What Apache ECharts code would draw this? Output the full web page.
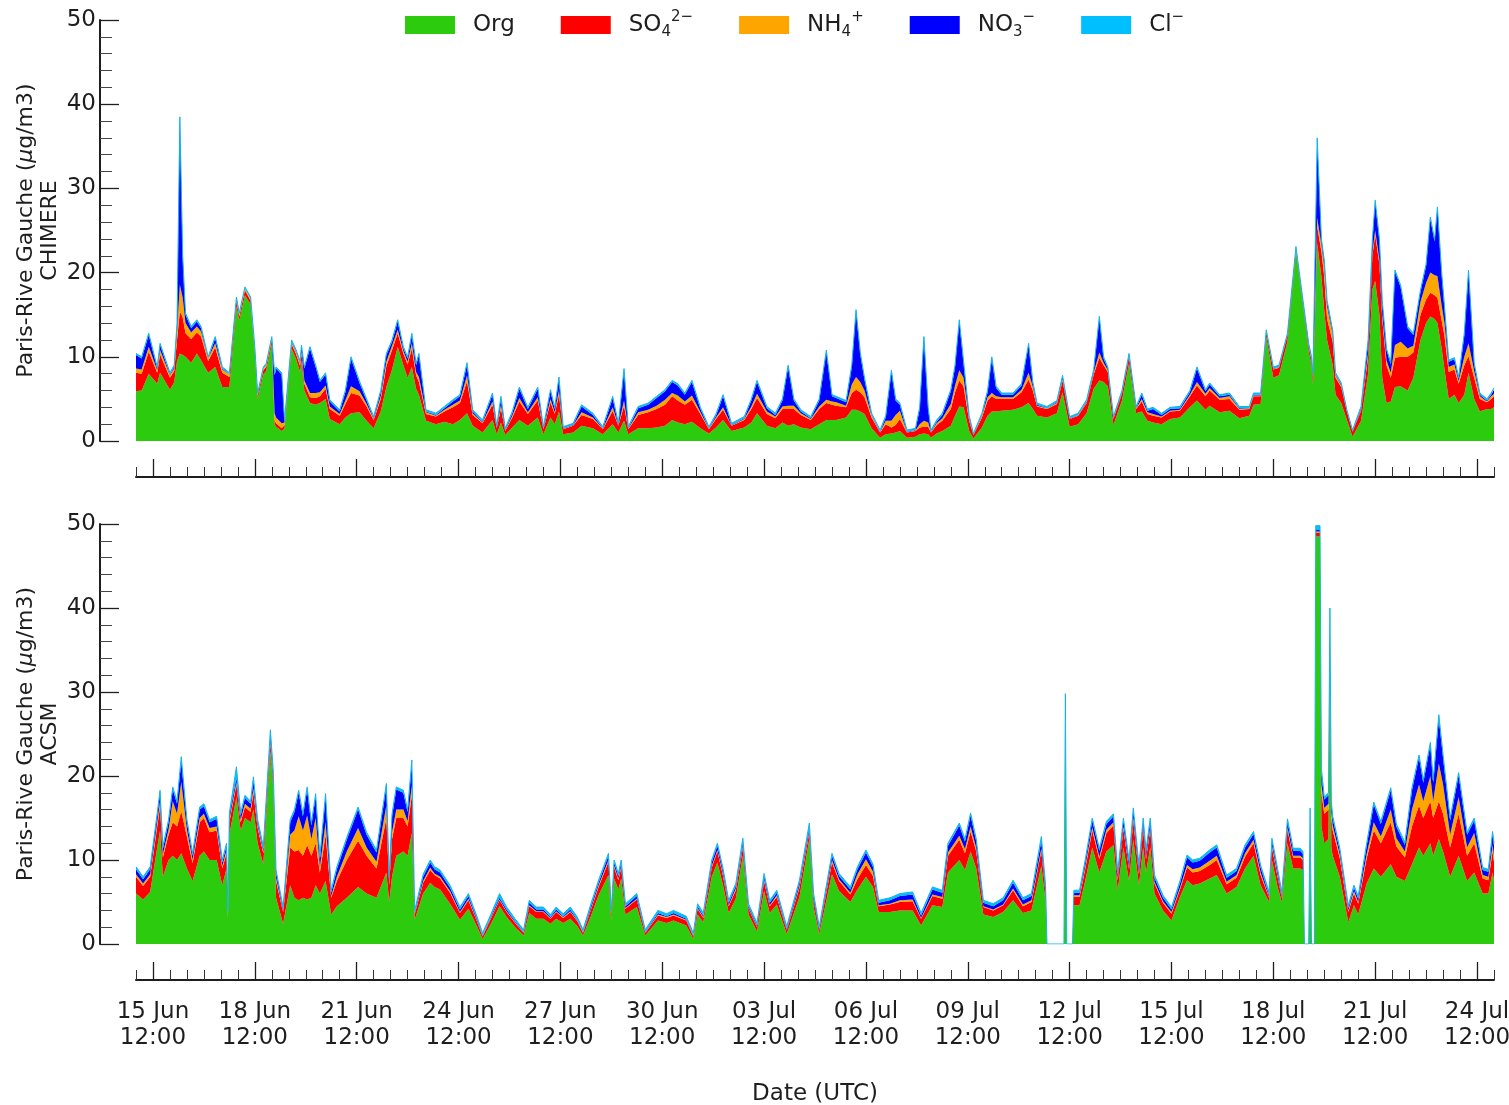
<!DOCTYPE html>
<html>
<head>
<meta charset="utf-8">
<script src="https://cdn.jsdelivr.net/npm/echarts@6/dist/echarts.min.js"></script>
<style>
  html, body { margin: 0; padding: 0; background: #ffffff; }
  #chart { width: 1509px; height: 1105px; }
</style>
</head>
<body>
<div id="chart"></div>
<script>
// Aerosol composition at Paris-Rive Gauche, 15 Jun - 25 Jul 2022.
// Times are hours since 2022-06-15 00:00 UTC; concentrations in µg/m3.

// ---- CHIMERE model ----
const chimereHours = [
  0,4,9,15,17,24,27,29,31,33,
  35,39,43,46,51,56,61,66,71,73,
  77,81,84,86,90,92,96,98,99,103,
  105,110,113,116,117,119,123,127,130,134,
  137,144,148,152,158,163,168,173,177,181,
  185,189,192,195,198,200,205,212,218,224,
  229,234,238,245,252,255,258,261,266,271,
  277,284,288,293,296,299,302,309,315,323,
  330,337,341,345,348,355,362,368,374,379,
  383,388,393,399,405,410,415,421,430,435,
  439,446,452,457,461,465,470,477,483,488,
  492,495,502,506,509,512,515,520,526,530,
  534,537,540,545,551,554,557,560,562,566,
  570,576,579,582,585,589,592,598,602,605,
  608,612,620,626,631,634,637,644,651,655,
  660,666,672,677,681,684,687,691,697,702,
  707,711,715,719,725,731,738,745,750,756,
  759,766,773,780,787,790,795,799,804,808,
  814,820,825,829,831,832,835,838,840,842,
  846,848,852,856,860,866,871,874,876,879,
  881,884,887,890,894,899,903,908,912,915,
  918,920,923,925,928,932,935,939,942,946,
  950,955,958,960
];
const chimereOrg = [
  5.9,6.0,8.0,6.8,8.1,6.1,7.0,9.5,10.4,10.2,
  10.0,9.3,10.4,9.6,8.1,8.8,6.4,6.4,16.0,14.3,
  17.3,16.2,10.4,5.0,7.9,8.3,11.5,2.0,1.7,1.2,
  1.5,11.0,9.8,8.2,9.5,6.0,4.5,4.3,4.5,5.0,
  2.6,2.0,2.8,3.3,3.4,2.4,1.5,3.5,6.4,8.5,
  11.2,9.0,7.5,8.8,6.2,5.5,2.4,2.0,2.3,2.0,
  2.5,3.3,1.8,1.0,2.5,0.8,2.2,0.7,1.6,2.5,
  1.8,2.8,0.8,2.8,2.0,3.5,0.8,1.0,1.8,1.5,
  0.8,2.0,1.0,2.4,0.8,1.5,1.5,1.6,1.8,2.5,
  2.2,2.0,2.3,1.5,0.9,1.6,2.5,1.2,1.6,2.2,
  3.3,1.8,1.5,2.2,1.8,2.0,1.6,1.4,2.0,2.5,
  2.5,2.5,2.8,3.7,3.7,3.5,3.2,1.5,0.4,0.8,
  0.9,1.0,1.2,0.4,0.5,0.8,0.9,0.8,0.4,0.9,
  1.2,1.8,3.0,4.1,4.0,1.2,0.3,1.6,3.0,3.5,
  3.5,3.6,3.7,4.0,4.5,3.8,3.0,2.8,3.3,5.8,
  1.7,2.0,3.3,6.2,7.2,7.0,6.5,1.9,4.8,9.2,
  3.3,3.5,2.4,2.2,2.0,2.6,2.8,4.0,4.8,3.7,
  4.2,3.4,3.6,2.7,3.0,4.3,4.4,12.4,7.5,7.8,
  11.8,22.5,16.1,10.6,9.0,6.6,23.5,19.5,15.5,12.0,
  9.0,5.5,4.5,2.5,0.5,2.4,8.0,18.0,19.0,15.0,
  7.5,4.5,4.7,6.4,6.5,6.0,7.5,12.0,14.0,14.8,
  14.5,14.0,11.0,8.5,5.0,5.5,4.5,5.5,8.1,5.0,
  3.5,3.8,3.8,4.0
];
const chimereSO4 = [
  2.2,2.0,2.6,1.3,2.2,1.4,1.3,2.5,5.0,4.5,
  2.8,2.8,2.5,2.8,1.4,2.3,1.7,1.2,0.6,0.5,
  0.6,0.5,0.4,0.4,0.5,0.5,0.5,0.5,0.4,0.3,
  0.4,0.5,0.6,0.7,0.9,0.8,0.7,0.8,0.8,1.2,
  1.2,1.0,1.6,2.4,2.0,1.7,1.0,1.5,2.5,2.3,
  1.6,1.4,1.6,2.2,1.6,1.5,0.8,0.9,1.2,2.0,
  2.0,3.8,1.3,1.1,1.8,0.7,1.7,0.5,1.2,2.2,
  1.4,2.0,0.6,1.8,1.2,2.0,0.6,0.8,1.3,1.1,
  0.6,1.6,0.8,1.8,0.6,1.6,1.9,2.2,2.5,2.8,
  2.6,2.3,2.6,1.7,0.5,1.0,1.2,0.6,0.9,1.6,
  1.8,1.4,1.2,1.6,2.0,1.8,1.5,1.1,1.8,2.0,
  1.8,1.7,1.2,2.0,2.4,2.3,2.0,1.3,0.6,1.2,
  0.7,0.9,1.4,0.6,0.7,0.8,0.8,0.9,0.6,1.0,
  1.2,2.0,2.8,3.1,2.5,1.2,0.4,1.2,1.8,1.8,
  1.5,1.4,1.3,1.8,2.8,2.2,1.1,1.0,1.1,1.4,
  0.9,1.0,1.2,1.7,2.7,2.0,1.7,0.7,0.8,0.8,
  0.5,1.2,0.8,0.8,0.8,0.9,0.8,1.3,1.8,1.6,
  1.8,1.5,1.4,1.0,0.8,1.0,0.9,0.5,1.0,0.9,
  0.7,0.3,0.3,0.6,0.6,1.0,2.0,3.0,4.0,2.5,
  2.8,2.0,1.9,1.0,0.6,1.2,2.0,4.0,5.5,6.0,
  7.0,4.5,2.8,3.5,3.5,4.0,3.0,3.0,2.8,2.8,
  2.8,3.0,3.3,4.0,3.2,3.0,2.3,3.5,2.0,2.5,
  1.5,0.8,1.2,1.3
];
const chimereNH4 = [
  0.5,0.5,0.6,0.3,0.5,0.3,0.3,1.0,3.2,2.3,
  1.2,0.8,0.7,0.6,0.3,0.5,0.4,0.3,0.2,0.2,
  0.2,0.2,0.2,0.1,0.2,0.2,0.2,0.8,0.7,0.6,
  0.3,0.2,0.2,0.3,0.3,0.4,0.5,0.6,0.5,0.4,
  0.3,0.2,0.4,0.8,0.5,0.3,0.1,0.3,0.5,0.5,
  0.4,0.3,0.3,0.6,0.4,0.6,0.2,0.1,0.2,0.3,
  0.3,0.7,0.2,0.1,0.4,0.05,0.4,0.05,0.2,0.4,
  0.2,0.4,0.05,0.4,0.2,0.5,0.05,0.05,0.3,0.2,
  0.05,0.4,0.05,0.6,0.05,0.3,0.3,0.4,0.6,0.4,
  0.6,0.4,0.5,0.2,0.05,0.2,0.3,0.05,0.1,0.3,
  0.5,0.3,0.2,0.3,0.4,0.4,0.2,0.1,0.3,0.4,
  0.4,0.4,0.2,1.0,1.5,1.2,0.8,0.2,0.05,0.4,
  0.8,1.2,1.0,0.05,0.05,0.4,0.7,0.5,0.05,0.2,
  0.3,0.6,0.8,1.2,1.0,0.2,0.0,0.2,0.4,0.4,
  0.3,0.2,0.2,0.3,0.8,0.4,0.1,0.05,0.1,0.2,
  0.05,0.05,0.1,0.2,0.6,0.3,0.2,0.05,0.1,0.1,
  0.05,0.3,0.2,0.2,0.1,0.1,0.1,0.2,0.4,0.3,
  0.3,0.2,0.3,0.1,0.05,0.1,0.1,0.05,0.05,0.05,
  0.05,0.05,0.05,0.1,0.1,0.1,1.0,0.8,1.2,1.5,
  0.8,0.3,0.2,0.0,0.0,0.1,0.5,0.4,0.5,0.5,
  0.5,0.6,0.6,1.5,1.8,1.0,0.8,1.5,2.0,2.4,
  2.4,2.6,1.8,1.5,0.6,0.6,0.3,1.0,1.5,0.8,
  0.3,0.1,0.3,0.3
];
const chimereNO3 = [
  1.6,1.3,1.4,0.2,0.6,0.1,0.2,0.8,19.6,4.8,
  1.0,0.5,0.6,0.4,0.0,0.6,0.1,0.0,0.1,0.0,
  0.0,0.0,0.0,0.0,0.0,0.0,0.0,4.5,5.8,5.8,
  0.1,0.1,0.1,0.1,0.5,1.4,5.3,3.1,1.2,1.3,
  0.6,0.3,1.0,3.3,1.0,0.4,0.1,0.5,0.8,0.5,
  1.0,0.3,0.4,1.0,0.8,2.6,0.1,0.1,0.2,0.4,
  0.5,1.3,0.2,0.1,0.8,0.05,0.8,0.05,0.3,1.1,
  0.4,1.0,0.05,0.9,0.4,1.4,0.05,0.05,0.7,0.3,
  0.05,1.1,0.05,3.6,0.05,0.5,0.6,0.9,1.0,1.3,
  1.2,0.8,1.6,0.4,0.05,0.2,1.3,0.05,0.1,0.7,
  1.4,0.4,0.2,0.7,4.6,0.6,0.2,0.1,0.7,5.7,
  0.6,0.5,0.4,2.1,7.8,3.3,1.3,0.1,0.05,0.4,
  5.8,1.7,0.7,0.05,0.05,1.8,9.8,1.6,0.05,0.2,
  0.4,1.5,2.2,5.8,1.8,0.2,0.0,0.1,0.6,4.1,
  1.0,0.3,0.3,0.5,3.3,0.4,0.1,0.05,0.1,0.2,
  0.05,0.05,0.1,0.2,4.1,0.5,0.2,0.05,0.1,0.1,
  0.05,0.5,0.2,0.6,0.2,0.2,0.2,0.3,1.6,0.3,
  0.4,0.2,0.2,0.1,0.05,0.1,0.1,0.05,0.05,0.05,
  0.05,0.05,0.05,0.1,0.1,0.1,9.0,0.5,0.6,0.5,
  0.3,0.1,0.1,0.0,0.0,0.2,1.3,1.3,3.4,2.3,
  1.5,1.2,1.0,8.7,6.5,2.4,1.3,1.2,2.0,6.4,
  4.0,8.0,3.7,1.8,0.6,0.6,0.3,2.6,8.5,0.8,
  0.2,0.1,0.2,0.5
];
const chimereCl = [
  0.2,0.2,0.2,0.2,0.2,0.2,0.2,0.2,0.3,0.2,
  0.2,0.2,0.2,0.2,0.2,0.2,0.2,0.2,0.2,0.2,
  0.2,0.2,0.2,0.2,0.2,0.2,0.2,0.2,0.2,0.2,
  0.2,0.2,0.2,0.2,0.2,0.2,0.2,0.2,0.2,0.2,
  0.2,0.2,0.2,0.2,0.2,0.2,0.2,0.2,0.2,0.2,
  0.2,0.2,0.2,0.2,0.2,0.2,0.2,0.2,0.2,0.2,
  0.2,0.2,0.2,0.2,0.2,0.2,0.2,0.2,0.2,0.2,
  0.2,0.2,0.2,0.2,0.2,0.2,0.2,0.2,0.2,0.2,
  0.2,0.2,0.2,0.2,0.2,0.2,0.2,0.2,0.2,0.2,
  0.2,0.2,0.2,0.2,0.2,0.2,0.2,0.2,0.2,0.2,
  0.2,0.2,0.2,0.2,0.2,0.2,0.2,0.2,0.2,0.2,
  0.2,0.2,0.2,0.2,0.2,0.2,0.2,0.2,0.2,0.2,
  0.2,0.2,0.2,0.2,0.2,0.2,0.2,0.2,0.2,0.2,
  0.2,0.2,0.2,0.2,0.2,0.2,0.2,0.2,0.2,0.2,
  0.2,0.2,0.2,0.2,0.2,0.2,0.2,0.2,0.2,0.2,
  0.2,0.2,0.2,0.2,0.2,0.2,0.2,0.2,0.2,0.2,
  0.2,0.2,0.2,0.2,0.2,0.2,0.2,0.2,0.2,0.2,
  0.2,0.2,0.2,0.2,0.2,0.2,0.2,0.2,0.2,0.2,
  0.2,0.2,0.2,0.2,0.2,0.2,0.5,0.2,0.2,0.2,
  0.2,0.2,0.2,0.2,0.2,0.2,0.2,0.2,0.2,0.2,
  0.2,0.2,0.2,0.2,0.2,0.2,0.2,0.2,0.2,0.2,
  0.2,0.2,0.2,0.2,0.2,0.2,0.2,0.2,0.2,0.2,
  0.2,0.2,0.2,0.2
];

// ---- ACSM measurements (zeros where the instrument had no data) ----
const acsmHours = [
  0,5,10,15,17,19,23,26,29,32,
  36,40,45,48,52,57,61,64,65,66,
  71,74,77,81,83,86,90,95,97,99,
  104,109,112,115,118,121,124,127,130,134,
  138,142,149,157,163,170,177,179,181,184,
  189,192,195,197,203,208,211,215,222,229,
  235,241,245,250,253,257,262,268,274,278,
  283,288,293,297,302,307,312,316,322,327,
  334,336,338,341,343,346,354,360,369,375,
  380,389,394,397,401,407,411,415,419,424,
  429,433,439,444,448,453,460,469,476,479,
  483,492,497,505,510,516,521,525,533,540,
  549,555,563,570,574,582,586,590,594,599,
  606,613,620,627,633,640,643,644,656,657,
  658,662,663,667,671,676,681,686,691,694,
  698,702,705,709,712,714,717,720,726,732,
  738,743,747,752,759,764,771,778,784,790,
  795,801,803,807,810,814,818,823,825,826,
  829,830,831,833,834,837,838,840,843,844,
  845,846,851,857,861,864,870,875,880,887,
  891,897,902,907,910,915,917,921,924,929,
  935,941,946,952,956,959,960
];
const acsmOrg = [
  6.0,5.3,6.2,11.5,13.5,8.0,10.0,10.5,10.0,10.8,
  9.0,7.5,10.5,11.0,10.0,10.0,7.0,9.0,3.0,13.0,
  17.5,13.5,15.0,14.5,16.0,12.0,9.5,23.0,18.5,5.5,
  2.4,7.0,5.5,5.2,5.5,5.3,5.5,7.0,6.0,7.5,
  3.5,4.5,5.5,6.8,6.0,5.5,8.5,5.0,8.0,10.5,
  11.0,10.5,13.2,2.9,6.0,7.3,6.8,6.5,4.8,2.9,
  4.2,2.1,0.6,2.1,3.1,4.5,3.2,2.0,1.0,3.7,
  3.0,3.0,2.4,3.0,2.5,3.0,2.1,1.0,3.5,5.8,
  8.2,2.9,7.8,6.5,7.8,3.5,4.4,1.0,2.8,2.5,
  2.8,2.2,0.6,3.5,2.6,8.0,9.7,7.0,3.7,5.4,
  10.5,3.5,1.5,6.3,3.7,4.7,1.2,5.6,12.5,4.4,
  1.2,8.3,6.3,5.0,6.5,8.0,6.8,3.8,3.8,4.0,
  4.0,2.2,4.6,4.4,8.5,10.0,8.8,11.0,9.0,3.5,
  3.2,3.8,5.2,3.7,4.0,9.3,5.0,0,0,28.5,
  0,0,4.6,4.6,7.5,11.5,8.5,11.0,11.8,6.4,
  11.5,7.5,12.4,7.0,11.5,8.5,11.5,6.0,4.0,2.8,
  5.6,7.6,7.0,7.2,7.8,8.2,6.0,6.8,9.0,10.5,
  7.0,5.0,10.0,6.8,5.0,12.0,9.0,9.0,8.8,0,
  0,15.0,0,0,48.5,48.5,14.0,12.0,12.5,38.0,
  11.5,10.5,8.0,2.6,4.6,3.5,7.2,9.0,8.0,9.5,
  8.0,7.5,9.5,11.5,10.5,12.0,10.5,12.5,11.0,8.0,
  10.5,7.5,8.5,6.0,6.0,8.5,7.5
];
const acsmSO4 = [
  2.0,1.6,1.8,2.5,2.8,2.3,3.0,4.0,4.0,5.0,
  3.8,2.1,4.0,4.0,3.3,3.5,2.0,1.8,0.3,1.5,
  1.5,1.0,1.3,1.2,2.0,1.8,1.3,1.0,1.0,2.0,
  1.4,4.5,5.5,6.0,5.0,6.5,5.0,5.0,2.5,5.5,
  2.0,3.0,4.5,5.5,4.5,3.5,6.5,2.0,4.5,4.5,
  4.0,3.5,4.5,0.6,1.3,1.5,1.4,1.3,1.3,0.8,
  1.0,0.6,0.3,0.6,0.7,0.7,0.6,0.5,0.3,0.8,
  0.8,0.8,0.6,0.8,0.6,0.8,0.6,0.3,0.8,1.0,
  1.6,0.6,1.3,1.1,1.3,0.7,0.9,0.3,0.6,0.6,
  0.6,0.6,0.3,0.7,0.5,1.1,1.3,1.1,0.8,1.0,
  1.0,0.7,0.5,1.2,0.8,0.9,0.4,1.1,0.8,0.8,
  0.4,1.4,1.2,0.9,1.2,1.4,1.3,0.7,0.9,1.0,
  1.1,0.8,1.1,1.0,2.0,2.4,2.0,2.4,2.0,0.9,
  0.8,0.8,1.2,0.8,1.0,1.8,1.0,0,0,0,
  0,0,1.0,1.0,1.4,2.0,1.6,2.2,2.3,1.2,
  2.2,1.4,2.3,1.3,2.2,1.6,2.2,1.2,0.9,0.8,
  0.9,1.5,1.5,1.5,1.6,1.8,1.1,1.1,1.4,1.5,
  1.2,0.5,1.5,1.2,0.5,1.6,1.3,1.3,1.2,0,
  0,0.5,0,0,0.5,0.5,4.0,3.5,3.5,1.0,
  3.5,3.0,2.2,1.2,1.4,1.3,3.0,4.5,4.0,5.0,
  3.6,2.8,4.5,5.0,4.5,5.0,4.5,4.5,4.5,3.5,
  5.0,3.0,3.5,1.8,1.6,2.5,2.3
];
const acsmNH4 = [
  0.3,0.3,0.3,0.5,0.7,0.4,0.6,2.5,1.5,3.5,
  0.8,0.4,0.5,0.5,0.5,0.5,0.3,0.4,0.1,0.3,
  0.3,0.3,0.4,0.4,0.5,0.3,0.2,0.3,0.3,0.4,
  0.1,1.5,2.5,4.0,3.0,3.5,2.0,3.0,0.6,1.5,
  0.2,0.5,1.0,1.5,1.0,0.8,1.5,0.3,0.8,1.0,
  1.0,0.6,1.2,0.1,0.2,0.3,0.2,0.2,0.2,0.1,
  0.2,0.1,0.05,0.1,0.1,0.1,0.1,0.1,0.05,0.1,
  0.1,0.1,0.1,0.1,0.1,0.1,0.1,0.05,0.1,0.2,
  0.2,0.1,0.2,0.2,0.2,0.1,0.1,0.05,0.1,0.1,
  0.1,0.1,0.05,0.1,0.1,0.2,0.2,0.2,0.1,0.2,
  0.2,0.1,0.05,0.2,0.1,0.2,0.05,0.2,0.2,0.1,
  0.05,0.3,0.2,0.2,0.6,0.7,0.5,0.1,0.1,0.2,
  0.2,0.1,0.2,0.2,0.4,0.5,0.5,0.6,0.4,0.1,
  0.1,0.1,0.2,0.2,0.2,0.3,0.2,0,0,0,
  0,0,0.2,0.2,0.3,0.4,0.3,0.4,0.4,0.2,
  0.3,0.2,0.4,0.2,0.3,0.2,0.3,0.2,0.2,0.2,
  0.2,0.3,0.4,0.4,0.5,0.5,0.3,0.3,0.4,0.4,
  0.3,0.1,0.3,0.2,0.1,0.3,0.2,0.2,0.2,0,
  0,0.1,0,0,0.1,0.1,1.0,0.7,0.7,0.2,
  0.7,0.6,0.4,0.2,0.3,0.2,0.5,1.0,0.8,1.5,
  1.0,0.7,2.0,2.5,2.0,3.0,2.0,4.5,3.5,1.5,
  2.0,1.0,1.2,0.4,0.4,0.8,0.7
];
const acsmNO3 = [
  0.6,0.5,0.6,0.8,1.0,0.6,0.9,1.4,1.2,2.5,
  0.9,0.5,1.0,0.9,0.7,0.9,0.4,0.5,0.1,0.5,
  0.5,0.5,0.7,0.6,0.9,0.4,0.3,0.5,0.5,0.6,
  0.2,1.5,2.2,2.8,1.7,3.1,1.6,2.6,1.0,3.1,
  0.4,0.9,1.4,2.2,1.5,1.1,2.3,0.4,1.9,2.4,
  2.0,1.1,2.5,0.1,0.5,0.6,0.5,0.5,0.4,0.3,
  0.3,0.2,0.05,0.1,0.2,0.2,0.2,0.1,0.05,0.3,
  0.2,0.2,0.1,0.2,0.1,0.2,0.1,0.05,0.3,0.3,
  0.5,0.1,0.4,0.3,0.4,0.2,0.3,0.05,0.2,0.1,
  0.2,0.1,0.05,0.2,0.2,0.4,0.5,0.4,0.3,0.3,
  0.4,0.2,0.15,0.4,0.3,0.3,0.15,0.4,0.4,0.4,
  0.15,0.5,0.4,0.4,0.6,0.8,0.6,0.3,0.4,0.5,
  0.6,0.3,0.6,0.5,0.8,1.2,0.9,1.3,0.8,0.4,
  0.4,0.5,0.7,0.5,0.5,0.9,0.5,0,0,0,
  0,0,0.3,0.3,0.5,0.8,0.7,0.7,0.7,0.5,
  0.7,0.6,0.8,0.6,0.7,0.6,0.7,0.5,0.4,0.3,
  0.5,0.9,0.8,0.8,1.0,1.0,0.5,0.5,0.7,0.7,
  0.6,0.2,0.5,0.5,0.2,0.7,0.6,0.6,0.5,0,
  0,0.3,0,0,0.2,0.2,1.5,1.0,1.0,0.4,
  1.0,0.8,0.5,0.3,0.4,0.4,1.0,2.1,1.5,2.3,
  1.4,0.8,2.3,3.2,2.2,3.7,2.2,5.3,3.2,1.7,
  2.6,1.5,1.5,0.6,0.6,1.3,1.2
];
const acsmCl = [
  0.3,0.3,0.3,0.3,0.3,0.3,0.3,0.3,0.3,0.5,
  0.3,0.3,0.3,0.3,0.3,0.3,0.3,0.3,0.5,0.3,
  1.3,0.3,0.3,0.3,0.5,0.3,0.3,0.7,0.4,0.3,
  0.3,0.3,0.3,0.3,0.3,0.3,0.3,0.3,0.3,0.3,
  0.3,0.3,0.3,0.3,0.3,0.3,0.3,0.3,0.3,0.3,
  0.3,0.3,0.5,0.3,0.3,0.3,0.3,0.3,0.3,0.3,
  0.3,0.3,0.3,0.3,0.3,0.5,0.3,0.3,0.3,0.3,
  0.3,0.3,0.3,0.3,0.3,0.3,0.3,0.3,0.3,0.3,
  0.3,0.3,0.3,0.3,0.3,0.3,0.3,0.3,0.3,0.3,
  0.3,0.3,0.3,0.3,0.3,0.3,0.3,0.3,0.3,0.3,
  0.5,0.3,0.3,0.3,0.3,0.3,0.3,0.3,0.5,0.3,
  0.3,0.3,0.3,0.3,0.3,0.3,0.3,0.3,0.3,0.3,
  0.3,0.3,0.3,0.3,0.3,0.3,0.3,0.3,0.3,0.3,
  0.3,0.3,0.3,0.3,0.3,0.5,0.3,0,0,1.3,
  0,0,0.3,0.3,0.3,0.3,0.3,0.3,0.3,0.3,
  0.3,0.3,0.3,0.3,0.3,0.3,0.3,0.3,0.3,0.3,
  0.3,0.3,0.3,0.3,0.3,0.3,0.3,0.3,0.3,0.3,
  0.3,0.4,0.3,0.3,0.4,0.3,0.3,0.3,0.3,0,
  0,0.3,0,0,0.5,0.5,0.4,0.3,0.3,0.4,
  0.3,0.3,0.3,0.3,0.3,0.3,0.3,0.3,0.3,0.3,
  0.3,0.3,0.3,0.3,0.3,0.3,0.3,0.5,0.3,0.3,
  0.3,0.3,0.3,0.3,0.3,0.3,0.3
];

// ---- Axis ticks ----
const yTickValues = [0, 10, 20, 30, 40, 50];
// major date ticks: every 3 days starting 15 Jun 12:00 (hour 12)
const dateTickLabels = [
  '15 Jun\n12:00', '18 Jun\n12:00', '21 Jun\n12:00', '24 Jun\n12:00', '27 Jun\n12:00',
  '30 Jun\n12:00', '03 Jul\n12:00', '06 Jul\n12:00', '09 Jul\n12:00', '12 Jul\n12:00',
  '15 Jul\n12:00', '18 Jul\n12:00', '21 Jul\n12:00', '24 Jul\n12:00'
];

// ---- Species ----
const speciesNames = ['Org', 'SO₄²⁻', 'NH₄⁺', 'NO₃⁻', 'Cl⁻'];
const speciesColors = ['#2dcb0d', '#ff0000', '#ffa500', '#0000ff', '#00bfff'];
const legendRich = {
  'Org': '{m|Org}',
  'SO₄²⁻': '{m|SO}{sub|4}{sup|2−}',
  'NH₄⁺': '{m|NH}{sub|4}{sup|+}',
  'NO₃⁻': '{m|NO}{sub|3}{sup|−}',
  'Cl⁻': '{m|Cl}{sup|−}'
};

[chimereOrg, chimereSO4, chimereNH4, chimereNO3, chimereCl].forEach(a => {
  if (a.length !== chimereHours.length) console.warn('CHIMERE length mismatch', a.length);
});
[acsmOrg, acsmSO4, acsmNH4, acsmNO3, acsmCl].forEach(a => {
  if (a.length !== acsmHours.length) console.warn('ACSM length mismatch', a.length);
});

// ---- Layout ----
const FONT = 'DejaVu Sans';
const INK = '#1e1e1e';
const PLOT_LEFT = 136, PLOT_WIDTH = 1358;
const SPAN_HOURS = 960, MINOR_STEP = 12, FIRST_MAJOR = 12, MAJOR_STEP = 72;
const pxPerHour = PLOT_WIDTH / SPAN_HOURS;
const majorLeft = PLOT_LEFT + FIRST_MAJOR * pxPerHour;
const majorWidth = (dateTickLabels.length - 1) * MAJOR_STEP * pxPerHour;
const panels = [
  { top: 20, height: 421, label: 'CHIMERE' },
  { top: 524, height: 420, label: 'ACSM' }
];
const AXIS_GAP = 36;

const grids = [];
panels.forEach(p => grids.push({ left: PLOT_LEFT, top: p.top, width: PLOT_WIDTH, height: p.height, outerBoundsMode: 'none', containLabel: false }));
panels.forEach(p => grids.push({ left: majorLeft, top: p.top, width: majorWidth, height: p.height, outerBoundsMode: 'none', containLabel: false }));

function minorXAxis(gridIndex) {
  return {
    type: 'value', gridIndex, min: 0, max: SPAN_HOURS, interval: MINOR_STEP,
    position: 'bottom', offset: AXIS_GAP,
    axisLine: { show: true, onZero: false, lineStyle: { color: INK, width: 2 } },
    axisTick: { show: true, inside: true, length: 10, lineStyle: { color: '#333', width: 1 } },
    axisLabel: { show: false }, splitLine: { show: false }
  };
}
function majorXAxis(gridIndex, withLabels) {
  const ax = {
    type: 'value', gridIndex, min: 0, max: (dateTickLabels.length - 1) * MAJOR_STEP, interval: MAJOR_STEP,
    position: 'bottom', offset: AXIS_GAP,
    axisLine: { show: false, onZero: false },
    axisTick: { show: true, inside: true, length: 18, lineStyle: { color: INK, width: 1.3 } },
    axisLabel: {
      show: withLabels, margin: 19, fontSize: 23, lineHeight: 26, color: INK, fontFamily: FONT,
      formatter: v => dateTickLabels[Math.round(v / MAJOR_STEP)] || ''
    },
    splitLine: { show: false }
  };
  if (withLabels) {
    ax.name = 'Date (UTC)';
    ax.nameLocation = 'middle';
    ax.nameGap = 103;
    ax.nameMoveOverlap = false;
    ax.nameTextStyle = { fontSize: 23, color: INK, fontFamily: FONT };
  }
  return ax;
}
function concYAxis(gridIndex, label) {
  return {
    type: 'value', gridIndex, min: yTickValues[0], max: yTickValues[yTickValues.length - 1],
    interval: yTickValues[1] - yTickValues[0],
    position: 'left', offset: AXIS_GAP,
    axisLine: { show: true, onZero: false, lineStyle: { color: INK, width: 2 } },
    axisTick: { show: true, inside: true, length: 19, lineStyle: { color: INK, width: 1.3 } },
    minorTick: { show: true, splitNumber: 5, length: 12, lineStyle: { color: '#444', width: 1 } },
    axisLabel: { margin: 4, fontSize: 23, color: INK, fontFamily: FONT },
    splitLine: { show: false },
    name: '{n|Paris-Rive Gauche (}{mu|μ}{n|g/m3)}\n{n|' + label + '}',
    nameLocation: 'middle', nameRotate: 90, nameGap: 38, nameMoveOverlap: false,
    nameTextStyle: {
      color: INK, fontFamily: FONT, fontSize: 22, lineHeight: 24,
      rich: {
        n: { fontSize: 22, lineHeight: 24, color: INK, fontFamily: FONT },
        mu: { fontSize: 22, lineHeight: 24, color: INK, fontFamily: FONT, fontStyle: 'italic' }
      }
    }
  };
}
function hiddenYAxis(gridIndex) {
  return { type: 'value', gridIndex, min: 0, max: 1, show: false };
}

// Each point is stored as [concentration, hour] so the stack accumulates the
// concentration dimension; encode maps it back to x = hour, y = concentration.
function stackSeries(hours, comps, axisIndex, stackId) {
  return comps.map((vals, k) => ({
    type: 'line', name: speciesNames[k], stack: stackId,
    xAxisIndex: axisIndex, yAxisIndex: axisIndex,
    data: hours.map((h, i) => [vals[i], h]),
    encode: { x: 1, y: 0 },
    symbol: 'none', showSymbol: false, silent: true,
    itemStyle: { color: speciesColors[k] },
    areaStyle: { color: speciesColors[k], opacity: 1 },
    lineStyle: k === comps.length - 1
      ? { width: 1, color: '#14b4e6' }
      : { width: 0, opacity: 0 },
    z: 2
  }));
}

const option = {
  backgroundColor: '#ffffff',
  animation: false,
  textStyle: { fontFamily: FONT },
  legend: {
    left: 400, top: 5, itemWidth: 50, itemHeight: 18, itemGap: 46,
    icon: 'rect', selectedMode: false,
    data: speciesNames,
    formatter: name => legendRich[name],
    textStyle: {
      color: INK, fontFamily: FONT, fontSize: 23, padding: [0, 0, 0, 13],
      rich: {
        m: { fontSize: 23, lineHeight: 30, color: INK, fontFamily: FONT },
        sub: { fontSize: 15, lineHeight: 17, verticalAlign: 'bottom', color: INK, fontFamily: FONT },
        sup: { fontSize: 15, lineHeight: 17, verticalAlign: 'top', color: INK, fontFamily: FONT }
      }
    }
  },
  grid: grids,
  xAxis: [minorXAxis(0), minorXAxis(1), majorXAxis(2, false), majorXAxis(3, true)],
  yAxis: [concYAxis(0, panels[0].label), concYAxis(1, panels[1].label), hiddenYAxis(2), hiddenYAxis(3)],
  series: [
    ...stackSeries(chimereHours, [chimereOrg, chimereSO4, chimereNH4, chimereNO3, chimereCl], 0, 'chimere'),
    ...stackSeries(acsmHours, [acsmOrg, acsmSO4, acsmNH4, acsmNO3, acsmCl], 1, 'acsm')
  ]
};

const chart = echarts.init(document.getElementById('chart'), null, { renderer: 'canvas' });
chart.setOption(option);
</script>
</body>
</html>
